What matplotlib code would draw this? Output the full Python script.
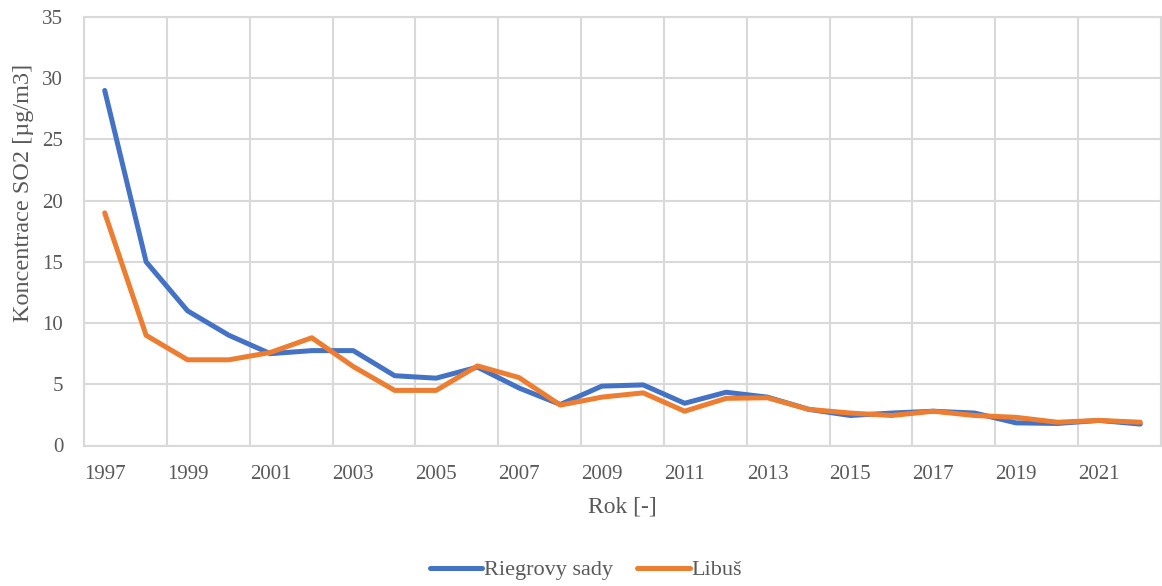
import matplotlib
matplotlib.use("Agg")
import matplotlib.pyplot as plt
import numpy as np

years = list(range(1997, 2023))
riegrovy = [29.0, 15.0, 11.0, 9.0, 7.5, 7.75, 7.75, 5.7, 5.5, 6.4, 4.7, 3.35, 4.85, 4.95, 3.45,
            4.35, 3.95, 2.95, 2.45, 2.65, 2.8, 2.65, 1.85, 1.8, 2.05, 1.75]
libus = [19.0, 9.0, 7.0, 7.0, 7.6, 8.8, 6.45, 4.5, 4.5, 6.5, 5.55, 3.3, 3.95, 4.3, 2.8,
         3.85, 3.9, 2.95, 2.65, 2.45, 2.8, 2.45, 2.3, 1.9, 2.05, 1.9]
series_names = ["Riegrovy sady", "Libuš"]
ylabel = "Koncentrace SO2 [µg/m3]"
xlabel = "Rok [-]"

plt.rcParams['font.family'] = ['Liberation Serif', 'DejaVu Serif']
gray = "#595959"
grid_c = "#D9D9D9"

fig = plt.figure(figsize=(11.62, 5.86), dpi=100)
W, H = 1162, 586
ax = fig.add_axes([84 / W, 1 - 445.5 / H, (1161 - 84) / W, (445.5 - 17) / H])

x = np.arange(len(years))
ax.plot(x, riegrovy, color="#4472C4", lw=3.6, solid_capstyle="round", solid_joinstyle="round",
        label=series_names[0], zorder=3)
ax.plot(x, libus, color="#ED7D31", lw=3.6, solid_capstyle="round", solid_joinstyle="round",
        label=series_names[1], zorder=4)

ax.set_xlim(-0.5, len(years) - 0.5)
ax.set_ylim(0, 35)
ax.set_yticks(np.arange(0, 36, 5))
ax.set_xticks(x[::2])
ax.set_xticklabels([str(y) for y in years[::2]])
ax.set_xticks(np.arange(-0.5, len(years), 2), minor=True)
ax.grid(False)
ax.grid(True, axis="y", which="major", color=grid_c, lw=1.5, zorder=0)
ax.grid(True, axis="x", which="minor", color=grid_c, lw=1.5, zorder=0)
for s in ax.spines.values():
    s.set_color(grid_c)
    s.set_linewidth(1.5)
ax.tick_params(axis="both", which="both", length=0, labelsize=15, colors=gray)
ax.tick_params(axis="y", pad=15)
ax.tick_params(axis="x", pad=14)

fig.text(24 / W, 1 - 193 / H, ylabel, rotation=90, ha="center", va="center",
         fontsize=17.5, color=gray)
fig.text(622 / W, 1 - 507 / H, xlabel, ha="center", va="center", fontsize=17, color=gray)

leg = fig.legend(loc="center", bbox_to_anchor=(586 / W, 1 - 570 / H), ncol=2, frameon=False,
                 fontsize=16, handlelength=2.35, columnspacing=1.1, handletextpad=0.1)
for t in leg.get_texts():
    t.set_color(gray)
for h in leg.get_lines():
    h.set_linewidth(3.6)

fig.savefig("out.png", dpi=100)
